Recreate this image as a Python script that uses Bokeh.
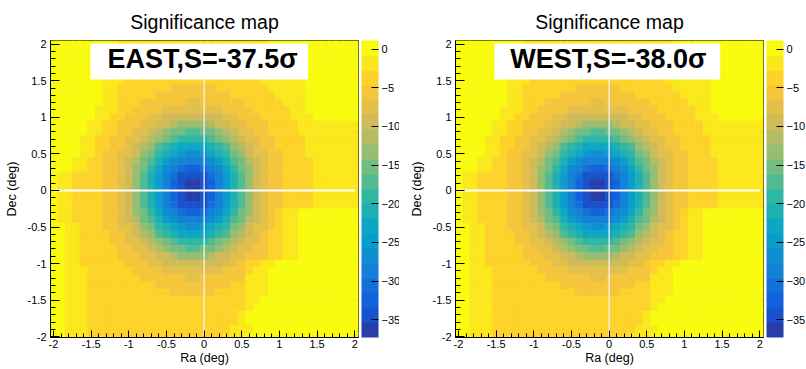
import numpy as np
from bokeh.plotting import figure
from bokeh.layouts import row
from bokeh.models import (ColumnDataSource, LinearColorMapper, ColorBar, Range1d,
                          SingleIntervalTicker, FixedTicker)
from bokeh.transform import transform
from bokeh.embed import file_html
from bokeh.resources import INLINE
from bokeh.core.properties import value

# ---------------- data ----------------
ra_bins = [-2.0, -1.9, -1.8, -1.7, -1.6, -1.5, -1.4, -1.3, -1.2, -1.1, -1.0, -0.9, -0.8, -0.7,
           -0.6, -0.5, -0.4, -0.3, -0.2, -0.1, 0.0, 0.1, 0.2, 0.3, 0.4, 0.5, 0.6, 0.7, 0.8, 0.9,
           1.0, 1.1, 1.2, 1.3, 1.4, 1.5, 1.6, 1.7, 1.8, 1.9, 2.0]
dec_bins = [2.0, 1.9, 1.8, 1.7, 1.6, 1.5, 1.4, 1.3, 1.2, 1.1, 1.0, 0.9, 0.8, 0.7, 0.6, 0.5,
            0.4, 0.3, 0.2, 0.1, 0.0, -0.1, -0.2, -0.3, -0.4, -0.5, -0.6, -0.7, -0.8, -0.9,
            -1.0, -1.1, -1.2, -1.3, -1.4, -1.5, -1.6, -1.7, -1.8, -1.9, -2.0]
axis_ticks = [-2.0, -1.5, -1.0, -0.5, 0.0, 0.5, 1.0, 1.5, 2.0]
axis_tick_labels = ["-2", "-1.5", "-1", "-0.5", "0", "0.5", "1", "1.5", "2"]
cbar_ticks = [-35, -30, -25, -20, -15, -10, -5, 0]
panel_titles = ["Significance map", "Significance map"]
panel_labels = ["EAST,S=-37.5\u03c3", "WEST,S=-38.0\u03c3"]
x_title = "Ra (deg)"
y_title = "Dec (deg)"

# significance per 0.1 deg cell, rows from Dec=+2.0 (top) to Dec=-2.0 (bottom)
east_map = [
    [1,1,1,1,1,1,1,1,1,-1,-1,-1,-1,-1,-2,-2,-2,-2,-2,-2,-2,-2,-2,-2,-1,-1,-1,-1,-1,0,0,0,0,0,1,1,1,1,1,1,1],
    [1,1,1,1,1,1,1,1,0,-1,-1,-1,-2,-2,-2,-2,-2,-2,-2,-2,-2,-2,-2,-2,-2,-2,-1,-1,-1,-1,0,0,0,0,1,1,1,1,1,1,1],
    [1,1,1,1,1,1,1,0,0,-1,-2,-2,-2,-2,-2,-2,-3,-3,-3,-3,-3,-3,-2,-2,-2,-2,-2,-2,-1,-1,-1,0,0,0,1,1,1,1,1,1,1],
    [1,1,1,1,1,1,1,0,0,-2,-2,-2,-2,-3,-3,-3,-3,-3,-3,-3,-3,-3,-3,-3,-3,-2,-2,-2,-2,-1,-1,-1,0,0,1,1,1,1,1,1,1],
    [1,1,1,1,1,1,1,0,-1,-2,-2,-3,-3,-3,-3,-3,-3,-4,-4,-4,-4,-3,-3,-3,-3,-3,-3,-2,-2,-2,-1,-1,-1,0,1,1,1,1,1,1,1],
    [1,1,1,1,1,1,1,-1,-1,-2,-3,-3,-3,-3,-4,-4,-4,-4,-4,-4,-4,-4,-4,-4,-3,-3,-3,-3,-2,-2,-2,-1,-1,-1,1,1,1,1,1,1,1],
    [1,1,1,1,1,1,0,-1,-1,-3,-3,-3,-4,-4,-4,-4,-5,-5,-5,-5,-5,-5,-4,-4,-4,-4,-3,-3,-3,-2,-2,-2,-1,-1,0,1,1,1,1,1,1],
    [1,1,1,1,1,0,0,-1,-2,-3,-3,-4,-4,-4,-5,-5,-5,-6,-6,-6,-6,-5,-5,-5,-4,-4,-4,-3,-3,-3,-2,-2,-2,-1,0,1,1,1,1,1,1],
    [1,1,1,1,0,0,0,-2,-2,-3,-4,-4,-5,-5,-6,-6,-6,-6,-7,-7,-6,-6,-6,-6,-5,-5,-4,-4,-3,-3,-3,-2,-2,-2,0,0,1,1,1,1,1],
    [1,1,1,1,0,0,-1,-2,-2,-4,-4,-5,-5,-6,-6,-7,-8,-8,-8,-8,-8,-8,-7,-6,-6,-5,-5,-4,-4,-3,-3,-3,-2,-2,0,0,0,1,1,1,1],
    [1,1,1,0,0,0,-1,-2,-3,-4,-5,-6,-6,-7,-8,-9,-9,-10,-10,-10,-10,-9,-9,-8,-7,-6,-6,-5,-4,-4,-3,-3,-2,-2,-1,0,0,1,1,1,1],
    [1,1,1,0,0,-1,-1,-3,-3,-5,-5,-6,-7,-8,-9,-10,-12,-13,-13,-13,-13,-12,-10,-9,-8,-7,-6,-5,-5,-4,-4,-3,-3,-2,-2,-1,-1,-1,-1,-1,-1],
    [1,1,0,0,0,-1,-1,-3,-3,-5,-6,-7,-8,-10,-12,-13,-15,-15,-17,-17,-15,-15,-13,-12,-10,-8,-7,-6,-5,-4,-4,-3,-3,-2,-2,-2,-1,-1,-1,-1,-1],
    [1,1,0,0,-1,-2,-4,-4,-5,-6,-7,-8,-10,-12,-13,-15,-17,-19,-19,-19,-19,-17,-15,-13,-12,-10,-8,-7,-6,-5,-4,-4,-3,-3,-2,-2,-1,-1,-1,-1,-1],
    [1,1,0,0,-1,-2,-4,-4,-5,-6,-8,-9,-12,-13,-17,-19,-21,-23,-23,-23,-23,-21,-19,-17,-13,-12,-9,-8,-6,-5,-4,-4,-3,-3,-2,-2,-1,-1,-1,-1,-1],
    [1,1,0,0,-1,-2,-4,-5,-6,-7,-8,-10,-13,-15,-19,-21,-23,-25,-27,-27,-25,-23,-21,-19,-15,-13,-10,-8,-7,-6,-5,-4,-3,-3,-2,-2,-1,-1,-1,-1,-1],
    [1,0,0,-1,-1,-3,-4,-5,-6,-7,-9,-12,-15,-17,-21,-25,-27,-29,-29,-29,-29,-27,-25,-21,-17,-15,-12,-9,-7,-6,-5,-4,-4,-3,-3,-2,-2,-1,-1,-1,-1],
    [1,0,0,-1,-1,-3,-4,-5,-6,-8,-10,-13,-15,-19,-23,-27,-29,-31,-32,-32,-31,-29,-27,-23,-19,-15,-13,-10,-8,-6,-5,-4,-4,-3,-3,-2,-2,-1,-1,-1,-1],
    [0,-1,-2,-3,-3,-4,-4,-5,-6,-8,-10,-13,-17,-21,-25,-29,-31,-34,-35,-35,-34,-31,-29,-25,-21,-17,-13,-10,-8,-6,-5,-4,-4,-3,-3,-2,-2,-1,-1,-1,-1],
    [0,-1,-2,-3,-3,-4,-4,-5,-6,-8,-10,-13,-17,-21,-25,-29,-32,-35,-36,-36,-35,-32,-29,-25,-21,-17,-13,-10,-8,-6,-5,-4,-4,-3,-3,-2,-2,-1,-1,-1,-1],
    [0,-1,-2,-3,-3,-4,-4,-5,-6,-8,-10,-13,-17,-21,-25,-29,-32,-35,-37.5,-37,-35,-32,-29,-25,-21,-17,-13,-10,-8,-6,-5,-4,-4,-3,-3,-2,-2,-1,-1,-1,-1],
    [0,-1,-2,-3,-3,-4,-4,-5,-6,-8,-10,-13,-17,-21,-25,-29,-32,-35,-36,-36,-35,-32,-29,-25,-21,-17,-13,-10,-8,-6,-5,-4,-4,-3,-3,-2,-2,-1,-1,-1,-1],
    [0,-1,-2,-3,-3,-4,-4,-5,-6,-8,-10,-13,-17,-21,-25,-29,-31,-34,-35,-35,-34,-31,-29,-25,-21,-17,-13,-10,-8,-6,-5,-4,-4,-3,-3,-2,-2,-1,-1,-1,-1],
    [0,-1,-2,-3,-3,-4,-4,-5,-6,-8,-10,-13,-15,-19,-23,-27,-29,-31,-32,-32,-31,-29,-27,-23,-19,-15,-13,-10,-8,-5,-4,-2,-2,0,0,1,1,1,1,1,1],
    [0,-1,-2,-3,-3,-4,-4,-5,-6,-7,-9,-12,-15,-17,-21,-25,-27,-29,-29,-29,-29,-27,-25,-21,-17,-15,-12,-9,-7,-5,-4,-2,-2,0,0,1,1,1,1,1,1],
    [0,0,-2,-2,-3,-3,-4,-5,-6,-7,-8,-10,-13,-15,-19,-21,-23,-25,-27,-27,-25,-23,-21,-19,-15,-13,-10,-8,-7,-5,-4,-2,-1,0,1,1,1,1,1,1,1],
    [0,0,-2,-2,-3,-3,-4,-4,-5,-6,-8,-9,-12,-13,-17,-19,-21,-23,-23,-23,-23,-21,-19,-17,-13,-12,-9,-8,-6,-4,-3,-2,-1,0,1,1,1,1,1,1,1],
    [0,0,-2,-2,-3,-3,-4,-4,-5,-6,-7,-8,-10,-12,-13,-15,-17,-19,-19,-19,-19,-17,-15,-13,-12,-10,-8,-7,-6,-4,-3,-2,-1,0,1,1,1,1,1,1,1],
    [0,0,-2,-2,-3,-4,-4,-4,-4,-5,-6,-7,-8,-10,-12,-13,-15,-15,-17,-17,-15,-15,-13,-12,-10,-8,-7,-6,-5,-3,-3,-1,-1,1,1,1,1,1,1,1,1],
    [1,0,-1,-2,-3,-4,-4,-4,-4,-5,-5,-6,-7,-8,-9,-10,-12,-13,-13,-13,-13,-12,-10,-9,-8,-7,-6,-5,-5,-3,-3,-1,-1,1,1,1,1,1,1,1,1],
    [1,0,-1,-2,-3,-3,-4,-4,-4,-4,-5,-6,-6,-7,-8,-9,-9,-10,-10,-10,-10,-9,-9,-8,-7,-6,-4,-3,-2,-1,0,1,1,1,1,1,1,1,1,1,1],
    [1,0,-2,-2,-2,-3,-3,-3,-3,-4,-4,-5,-5,-6,-6,-7,-8,-8,-8,-8,-8,-8,-7,-6,-6,-5,-3,-2,-2,0,0,1,1,1,1,1,1,1,1,1,1],
    [1,1,-2,-2,-2,-3,-3,-3,-3,-3,-4,-4,-5,-5,-6,-6,-6,-6,-7,-7,-6,-6,-6,-6,-5,-5,-2,-2,-1,0,0,1,1,1,1,1,1,1,1,1,1],
    [1,1,-2,-2,-2,-3,-3,-3,-3,-3,-3,-4,-4,-4,-5,-5,-5,-6,-6,-6,-6,-5,-5,-5,-4,-4,-2,-1,-1,0,1,1,1,1,1,1,1,1,1,1,1],
    [1,1,-2,-2,-2,-3,-3,-3,-3,-3,-3,-3,-4,-4,-4,-4,-5,-5,-5,-5,-5,-5,-4,-4,-4,-4,-1,-1,-1,1,1,1,1,1,1,1,1,1,1,1,1],
    [1,1,-2,-2,-2,-3,-3,-3,-3,-3,-3,-3,-3,-3,-4,-4,-4,-4,-4,-4,-4,-4,-4,-4,-3,-3,-1,-1,0,1,1,1,1,1,1,1,1,1,1,1,1],
    [1,1,-2,-2,-2,-3,-3,-3,-3,-3,-3,-3,-3,-3,-3,-3,-3,-4,-4,-4,-4,-3,-3,-3,-3,-3,-1,0,0,1,1,1,1,1,1,1,1,1,1,1,1],
    [1,1,-2,-2,-2,-3,-3,-3,-3,-3,-3,-3,-3,-4,-4,-3,-3,-4,-4,-3,-3,-3,-3,-3,-3,-2,0,0,0,1,1,1,1,1,1,1,1,1,1,1,1],
    [1,1,-2,-2,-2,-3,-3,-3,-3,-3,-3,-3,-3,-3,-3,-3,-3,-3,-3,-3,-3,-3,-3,-3,-3,-2,0,0,1,1,1,1,1,1,1,1,1,1,1,1,1],
    [1,1,-1,-2,-2,-3,-3,-3,-3,-3,-3,-3,-4,-4,-3,-3,-3,-3,-3,-3,-3,-3,-3,-3,-2,-2,-1,0,1,1,1,1,1,1,1,1,1,1,1,1,1],
    [1,1,-1,-2,-2,-3,-3,-3,-3,-3,-3,-3,-3,-3,-3,-3,-3,-3,-3,-3,-3,-3,-3,-2,-2,-1,0,0,1,1,1,1,1,1,1,1,1,1,1,1,1],
]

west_map = [
    [1,1,1,1,1,1,1,1,1,-1,-1,-1,-1,-1,-2,-2,-2,-2,-2,-2,-2,-2,-2,-2,-1,-1,-1,-1,-1,0,0,0,0,0,1,1,1,1,1,1,1],
    [1,1,1,1,1,1,1,1,0,-1,-1,-1,-2,-2,-2,-2,-2,-2,-2,-2,-2,-2,-2,-2,-2,-2,-1,-1,-1,-1,0,0,0,0,1,1,1,1,1,1,1],
    [1,1,1,1,1,1,1,0,0,-1,-2,-2,-2,-2,-2,-2,-3,-3,-3,-3,-3,-3,-2,-2,-2,-2,-2,-2,-1,-1,-1,0,0,0,1,1,1,1,1,1,1],
    [1,1,1,1,1,1,1,0,0,-2,-2,-2,-2,-3,-3,-3,-3,-3,-3,-3,-3,-3,-3,-3,-3,-2,-2,-2,-2,-1,-1,-1,0,0,1,1,1,1,1,1,1],
    [1,1,1,1,1,1,1,0,-1,-2,-2,-3,-3,-3,-3,-3,-3,-4,-4,-4,-4,-3,-3,-3,-3,-3,-3,-2,-2,-2,-1,-1,-1,0,1,1,1,1,1,1,1],
    [1,1,1,1,1,1,1,-1,-1,-2,-3,-3,-3,-3,-4,-4,-4,-4,-4,-4,-4,-4,-4,-4,-3,-3,-3,-3,-2,-2,-2,-1,-1,-1,1,1,1,1,1,1,1],
    [1,1,1,1,1,1,0,-1,-1,-3,-3,-3,-4,-4,-4,-4,-5,-5,-5,-5,-5,-5,-4,-4,-4,-4,-3,-3,-3,-2,-2,-2,-1,-1,0,1,1,1,1,1,1],
    [1,1,1,1,1,0,0,-1,-2,-3,-3,-4,-4,-4,-5,-5,-5,-6,-6,-6,-6,-5,-5,-5,-4,-4,-4,-3,-3,-3,-2,-2,-2,-1,0,1,1,1,1,1,1],
    [1,1,1,1,0,0,0,-2,-2,-3,-4,-4,-5,-5,-6,-6,-6,-6,-7,-7,-6,-6,-6,-6,-5,-5,-4,-4,-3,-3,-3,-2,-2,-2,0,0,1,1,1,1,1],
    [1,1,1,1,0,0,-1,-2,-2,-4,-4,-5,-5,-6,-6,-7,-8,-8,-8,-8,-8,-8,-7,-6,-6,-5,-5,-4,-4,-3,-3,-3,-2,-2,0,0,0,1,1,1,1],
    [1,1,1,0,0,0,-1,-2,-3,-4,-5,-6,-6,-7,-8,-9,-9,-10,-10,-10,-10,-9,-9,-8,-7,-6,-6,-5,-4,-4,-3,-3,-2,-2,-1,0,0,1,1,1,1],
    [1,1,1,0,0,-1,-1,-3,-3,-5,-5,-6,-7,-8,-9,-10,-12,-13,-13,-13,-13,-12,-10,-9,-8,-7,-6,-5,-5,-4,-4,-3,-3,-2,-2,-1,-1,-1,-1,-1,-1],
    [1,1,0,0,0,-1,-1,-3,-3,-5,-6,-7,-8,-10,-12,-13,-15,-15,-17,-17,-15,-15,-13,-12,-10,-8,-7,-6,-5,-4,-4,-3,-3,-2,-2,-2,-1,-1,-1,-1,-1],
    [1,1,0,0,-1,-2,-4,-4,-5,-6,-7,-8,-10,-12,-13,-15,-17,-19,-19,-19,-19,-17,-15,-13,-12,-10,-8,-7,-6,-5,-4,-4,-3,-3,-2,-2,-1,-1,-1,-1,-1],
    [1,1,0,0,-1,-2,-4,-4,-5,-6,-8,-9,-12,-13,-17,-19,-21,-23,-23,-23,-23,-21,-19,-17,-13,-12,-9,-8,-6,-5,-4,-4,-3,-3,-2,-2,-1,-1,-1,-1,-1],
    [1,1,0,0,-1,-2,-4,-5,-6,-7,-8,-10,-13,-15,-19,-21,-23,-25,-27,-27,-25,-23,-21,-19,-15,-13,-10,-8,-7,-6,-5,-4,-3,-3,-2,-2,-1,-1,-1,-1,-1],
    [1,0,0,-1,-1,-3,-4,-5,-6,-7,-9,-12,-15,-17,-21,-25,-27,-29,-29,-29,-29,-27,-25,-21,-17,-15,-12,-9,-7,-6,-5,-4,-4,-3,-3,-2,-2,-1,-1,-1,-1],
    [1,0,0,-1,-1,-3,-4,-5,-6,-8,-10,-13,-15,-19,-23,-27,-29,-31,-32,-32,-31,-29,-27,-23,-19,-15,-13,-10,-8,-6,-5,-4,-4,-3,-3,-2,-2,-1,-1,-1,-1],
    [0,-1,-2,-3,-3,-4,-4,-5,-6,-8,-10,-13,-17,-21,-25,-29,-31,-34,-35,-35,-34,-31,-29,-25,-21,-17,-13,-10,-8,-6,-5,-4,-4,-3,-3,-2,-2,-1,-1,-1,-1],
    [0,-1,-2,-3,-3,-4,-4,-5,-6,-8,-10,-13,-17,-21,-25,-29,-32,-35,-37,-36,-35,-32,-29,-25,-21,-17,-13,-10,-8,-6,-5,-4,-4,-3,-3,-2,-2,-1,-1,-1,-1],
    [0,-1,-2,-3,-3,-4,-4,-5,-6,-8,-10,-13,-17,-21,-25,-29,-32,-35,-38,-37,-35,-32,-29,-25,-21,-17,-13,-10,-8,-6,-5,-4,-4,-3,-3,-2,-2,-1,-1,-1,-1],
    [0,-1,-2,-3,-3,-4,-4,-5,-6,-8,-10,-13,-17,-21,-25,-29,-32,-35,-36,-36,-35,-32,-29,-25,-21,-17,-13,-10,-8,-6,-5,-4,-4,-3,-3,-2,-2,-1,-1,-1,-1],
    [0,-1,-2,-3,-3,-4,-4,-5,-6,-8,-10,-13,-17,-21,-25,-29,-31,-34,-35,-35,-34,-31,-29,-25,-21,-17,-13,-10,-8,-6,-5,-4,-4,-3,-3,-2,-2,-1,-1,-1,-1],
    [0,-1,-2,-3,-3,-4,-4,-5,-6,-8,-10,-13,-15,-19,-23,-27,-29,-31,-32,-32,-31,-29,-27,-23,-19,-15,-13,-10,-8,-5,-4,-2,-2,0,0,1,1,1,1,1,1],
    [0,-1,-2,-3,-3,-4,-4,-5,-6,-7,-9,-12,-15,-17,-21,-25,-27,-29,-29,-29,-29,-27,-25,-21,-17,-15,-12,-9,-7,-5,-4,-2,-2,0,0,1,1,1,1,1,1],
    [0,0,-2,-2,-3,-3,-4,-5,-6,-7,-8,-10,-13,-15,-19,-21,-23,-25,-27,-27,-25,-23,-21,-19,-15,-13,-10,-8,-7,-5,-4,-2,-1,0,1,1,1,1,1,1,1],
    [0,0,-2,-2,-3,-3,-4,-4,-5,-6,-8,-9,-12,-13,-17,-19,-21,-23,-23,-23,-23,-21,-19,-17,-13,-12,-9,-8,-6,-4,-3,-2,-1,0,1,1,1,1,1,1,1],
    [0,0,-2,-2,-3,-3,-4,-4,-5,-6,-7,-8,-10,-12,-13,-15,-17,-19,-19,-19,-19,-17,-15,-13,-12,-10,-8,-7,-6,-4,-3,-2,-1,0,1,1,1,1,1,1,1],
    [0,0,-2,-2,-3,-4,-4,-4,-4,-5,-6,-7,-8,-10,-12,-13,-15,-15,-17,-17,-15,-15,-13,-12,-10,-8,-7,-6,-5,-3,-3,-1,-1,1,1,1,1,1,1,1,1],
    [1,0,-1,-2,-3,-4,-4,-4,-4,-5,-5,-6,-7,-8,-9,-10,-12,-13,-13,-13,-13,-12,-10,-9,-8,-7,-6,-5,-5,-3,-3,-1,-1,1,1,1,1,1,1,1,1],
    [1,0,-1,-2,-3,-3,-4,-4,-4,-4,-5,-6,-6,-7,-8,-9,-9,-10,-10,-10,-10,-9,-9,-8,-7,-6,-4,-3,-2,-1,0,1,1,1,1,1,1,1,1,1,1],
    [1,0,-2,-2,-2,-3,-3,-3,-3,-4,-4,-5,-5,-6,-6,-7,-8,-8,-8,-8,-8,-8,-7,-6,-6,-5,-3,-2,-2,0,0,1,1,1,1,1,1,1,1,1,1],
    [1,1,-2,-2,-2,-3,-3,-3,-3,-3,-4,-4,-5,-5,-6,-6,-6,-6,-7,-7,-6,-6,-6,-6,-5,-5,-2,-2,-1,0,0,1,1,1,1,1,1,1,1,1,1],
    [1,1,-2,-2,-2,-3,-3,-3,-3,-3,-3,-4,-4,-4,-5,-5,-5,-6,-6,-6,-6,-5,-5,-5,-4,-4,-2,-1,-1,0,1,1,1,1,1,1,1,1,1,1,1],
    [1,1,-2,-2,-2,-3,-3,-3,-3,-3,-3,-3,-4,-4,-4,-4,-5,-5,-5,-5,-5,-5,-4,-4,-4,-4,-1,-1,-1,1,1,1,1,1,1,1,1,1,1,1,1],
    [1,1,-2,-2,-2,-3,-3,-3,-3,-3,-3,-3,-3,-3,-4,-4,-4,-4,-4,-4,-4,-4,-4,-4,-3,-3,-1,-1,0,1,1,1,1,1,1,1,1,1,1,1,1],
    [1,1,-2,-2,-2,-3,-3,-3,-3,-3,-3,-3,-3,-3,-3,-3,-3,-4,-4,-4,-4,-3,-3,-3,-3,-3,-1,0,0,1,1,1,1,1,1,1,1,1,1,1,1],
    [1,1,-2,-2,-2,-3,-3,-3,-3,-3,-3,-3,-3,-4,-4,-3,-3,-4,-4,-3,-3,-3,-3,-3,-3,-2,0,0,0,1,1,1,1,1,1,1,1,1,1,1,1],
    [1,1,-2,-2,-2,-3,-3,-3,-3,-3,-3,-3,-3,-3,-3,-3,-3,-3,-3,-3,-3,-3,-3,-3,-3,-2,0,0,1,1,1,1,1,1,1,1,1,1,1,1,1],
    [1,1,-1,-2,-2,-3,-3,-3,-3,-3,-3,-3,-4,-4,-3,-3,-3,-3,-3,-3,-3,-3,-3,-3,-2,-2,-1,0,1,1,1,1,1,1,1,1,1,1,1,1,1],
    [1,1,-1,-2,-2,-3,-3,-3,-3,-3,-3,-3,-3,-3,-3,-3,-3,-3,-3,-3,-3,-3,-3,-2,-2,-1,0,0,1,1,1,1,1,1,1,1,1,1,1,1,1],
]

for name, grid in (("east", east_map), ("west", west_map)):
    assert len(grid) == len(dec_bins), name
    for k, r in enumerate(grid):
        assert len(r) == len(ra_bins), (name, k, len(r))

# ---------------- style ----------------
FONT = "Liberation Sans"
Z_LOW, Z_HIGH = -37.3, 1.1
N_LEVELS = 20
FRAME_W, FRAME_H = 308, 297
# ROOT kBird palette stops
bird_stops = [0.0, 0.125, 0.25, 0.375, 0.5, 0.625, 0.75, 0.875, 1.0]
bird_r = [0.2082, 0.0592, 0.0780, 0.0232, 0.1802, 0.5301, 0.8186, 0.9956, 0.9764]
bird_g = [0.1664, 0.3599, 0.5041, 0.6419, 0.7178, 0.7492, 0.7328, 0.7862, 0.9832]
bird_b = [0.5293, 0.8684, 0.8385, 0.7914, 0.6425, 0.4662, 0.3499, 0.1968, 0.0539]
palette = []
for lev in range(N_LEVELS):
    k = int((lev + 0.99) * 255 / N_LEVELS)
    t = k / 254.0
    rr = np.interp(t, bird_stops, bird_r)
    gg = np.interp(t, bird_stops, bird_g)
    bb = np.interp(t, bird_stops, bird_b)
    palette.append("#%02x%02x%02x" % (int(round(rr * 255)), int(round(gg * 255)), int(round(bb * 255))))


def make_panel(grid, title, label, border_left, border_right, box_lr, label_x):
    xs, ys, zs = [], [], []
    for j, dec in enumerate(dec_bins):
        for i, ra in enumerate(ra_bins):
            xs.append(ra)
            ys.append(dec)
            zs.append(grid[j][i])
    src = ColumnDataSource(dict(x=xs, y=ys, z=zs))
    mapper = LinearColorMapper(palette=palette, low=Z_LOW, high=Z_HIGH)

    p = figure(frame_width=FRAME_W, frame_height=FRAME_H,
               x_range=Range1d(-2.04, 2.05), y_range=Range1d(-2.01, 2.05),
               output_backend="svg", toolbar_location=None, title=title,
               min_border_left=border_left, min_border_right=border_right, min_border_top=40,
               min_border_bottom=31)
    p.title.align = "center"
    p.title.text_font = FONT
    p.title.text_font_size = "19.5px"
    p.title.text_font_style = "normal"
    p.title.text_color = "#000000"
    p.title.standoff = 15

    p.rect(x="x", y="y", width=0.1, height=0.1, source=src,
           fill_color=transform("z", mapper), line_color=transform("z", mapper), line_width=0.6)

    # cross hair
    p.line([-2.0, 2.0], [0.0, 0.0], line_color="white", line_width=2)
    p.line([0.0, 0.0], [-2.0, 2.0], line_color="#f4f4f4", line_width=1.3)

    # label box
    p.quad(left=[box_lr[0]], right=[box_lr[1]], bottom=[1.517], top=[2.009],
           fill_color="white", line_color=None)
    p.text(x=[label_x], y=[1.797], text=[label], text_font=value(FONT), text_font_size="27px",
           text_font_style="bold", text_align="center", text_baseline="middle",
           text_color="black")

    p.grid.visible = False
    p.outline_line_color = "black"
    p.outline_line_width = 1
    p.background_fill_color = "white"
    p.border_fill_color = "white"

    overrides = {float(t): s for t, s in zip(axis_ticks, axis_tick_labels)}
    for ax, lab, tin, mtin, st, lst in ((p.xaxis[0], x_title, 7, 4, 2, 0),
                                        (p.yaxis[0], y_title, 9, 5, 4, 6)):
        ax.ticker = SingleIntervalTicker(interval=0.5, num_minor_ticks=5)
        ax.major_label_overrides = overrides
        ax.axis_label = lab
        ax.axis_label_text_font = FONT
        ax.axis_label_text_font_size = "12.5px"
        ax.axis_label_text_font_style = "normal"
        ax.axis_label_text_color = "#000000"
        ax.axis_label_standoff = lst
        ax.major_label_text_font = FONT
        ax.major_label_text_font_size = "11px"
        ax.major_label_text_color = "#000000"
        ax.major_label_standoff = st
        ax.axis_line_color = "black"
        ax.major_tick_line_color = "black"
        ax.minor_tick_line_color = "black"
        ax.major_tick_in = tin
        ax.major_tick_out = 0
        ax.minor_tick_in = mtin
        ax.minor_tick_out = 0

    cb = ColorBar(color_mapper=mapper, location=(FRAME_W + 3, 0), width=17, height=FRAME_H,
                  padding=0, margin=0, ticker=FixedTicker(ticks=cbar_ticks),
                  major_label_text_font=FONT, major_label_text_font_size="11px",
                  major_label_text_color="#000000",
                  major_tick_line_color="black", major_tick_in=7, major_tick_out=0,
                  minor_tick_line_color=None, label_standoff=3,
                  bar_line_color=None, border_line_color=None, background_fill_alpha=0)
    p.add_layout(cb)
    return p


p1 = make_panel(east_map, panel_titles[0], panel_labels[0], 50, 41, (-1.51, 1.38), -0.02)
p2 = make_panel(west_map, panel_titles[1], panel_labels[1], 56, 42, (-1.523, 1.475), -0.01)
layout = row(p1, p2)

open("out.html", "w").write(file_html(layout, INLINE))
